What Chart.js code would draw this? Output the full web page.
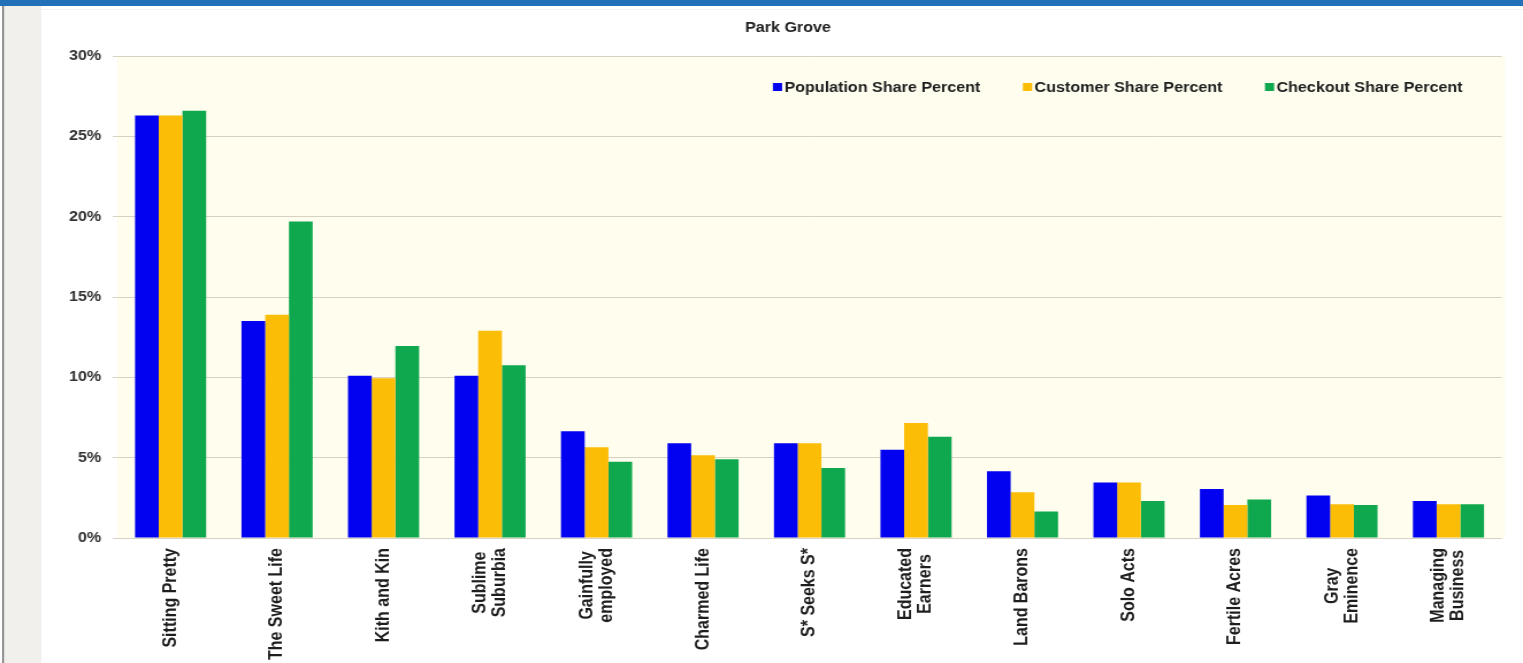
<!DOCTYPE html>
<html>
<head>
<meta charset="utf-8">
<script src="https://cdn.jsdelivr.net/npm/chart.js@4/dist/chart.umd.min.js"></script>
<style>
  html, body { margin: 0; padding: 0; background: #ffffff; overflow: hidden; }
  #wrap { width: 1523px; height: 663px; overflow: hidden; }
  #c { display: block; transform: scaleX(1.150302); transform-origin: 0 0; }
</style>
</head>
<body>
<div id="wrap"><canvas id="c" width="1324" height="663"></canvas></div>
<script>
// ---- data ----
const chartTitle = 'Park Grove';
const categories = [
  'Sitting Pretty', 'The Sweet Life', 'Kith and Kin', ['Sublime', 'Suburbia'],
  ['Gainfully', 'employed'], 'Charmed Life', 'S* Seeks S*', ['Educated', 'Earners'],
  'Land Barons', 'Solo Acts', 'Fertile Acres', ['Gray', 'Eminence'], ['Managing', 'Business']
];
const seriesNames = ['Population Share Percent', 'Customer Share Percent', 'Checkout Share Percent'];
const populationShare = [26.3, 13.5, 10.1, 10.1, 6.65, 5.9, 5.9, 5.5, 4.15, 3.45, 3.05, 2.65, 2.3];
const customerShare   = [26.3, 13.9, 9.95, 12.9, 5.65, 5.15, 5.9, 7.15, 2.85, 3.45, 2.05, 2.1, 2.1];
const checkoutShare   = [26.6, 19.7, 11.95, 10.75, 4.75, 4.9, 4.35, 6.3, 1.65, 2.3, 2.4, 2.05, 2.1];
const yTicks = [0, 5, 10, 15, 20, 25, 30];

// ---- styles ----
const colors = ['#0202f0', '#fcbd06', '#0fa84f'];
const FONT = '"Liberation Sans", Arial, Helvetica, sans-serif';

const framePlugin = {
  id: 'frame',
  beforeDraw(chart) {
    const ctx = chart.ctx, W = chart.width, H = chart.height, a = chart.chartArea;
    ctx.save();
    ctx.fillStyle = '#ffffff';
    ctx.fillRect(0, 0, W, H);
    // left grey strip and border
    ctx.fillStyle = '#f2f0ed';
    ctx.fillRect(3, 0, 33, H);
    ctx.fillStyle = '#5a5a5a';
    ctx.fillRect(2, 0, 1.2, H);
    // top blue band
    ctx.fillStyle = '#2170b8';
    ctx.fillRect(0, 0, W, 6);
    ctx.fillStyle = '#f3f3f3';
    ctx.fillRect(36, 9, W - 36, 1);
    // plot background
    ctx.fillStyle = '#fefdee';
    ctx.fillRect(a.left, a.top, a.right - a.left + 3, a.bottom - a.top);
    ctx.restore();
  },
  afterDraw(chart) {
    const ctx = chart.ctx, a = chart.chartArea;
    const xs = chart.scales.x;
    ctx.save();
    // title
    ctx.font = 'bold 14px ' + FONT;
    ctx.fillStyle = '#222222';
    ctx.textAlign = 'center';
    ctx.textBaseline = 'middle';
    ctx.fillText(chartTitle, 685, 28);
    // category labels, rotated, lines centred
    ctx.font = 'bold 16px ' + FONT;
    ctx.fillStyle = '#1e1e1e';
    ctx.textAlign = 'center';
    ctx.textBaseline = 'middle';
    const lineH = 17;
    categories.forEach((lab, i) => {
      const lines = Array.isArray(lab) ? lab : [lab];
      const maxW = Math.max(...lines.map(l => ctx.measureText(l).width));
      const x = xs.getPixelForValue(i);
      ctx.save();
      ctx.translate(x, a.bottom + 10);
      ctx.rotate(-Math.PI / 2);
      lines.forEach((l, j) => {
        ctx.fillText(l, -maxW / 2, (j - (lines.length - 1) / 2) * lineH);
      });
      ctx.restore();
    });
    // legend inside plot, top right
    ctx.font = 'bold 14px ' + FONT;
    ctx.textAlign = 'left';
    ctx.textBaseline = 'alphabetic';
    const box = 8, boxGap = 2, itemGap = 37;
    const ds = chart.data.datasets;
    const widths = ds.map(d => ctx.measureText(d.label).width);
    let total = 0;
    widths.forEach((w, i) => { total += box + boxGap + w + (i < widths.length - 1 ? itemGap : 0); });
    let x = a.right - 34 - total;
    const base = 92;
    ds.forEach((d, i) => {
      ctx.fillStyle = d.backgroundColor;
      ctx.fillRect(x, base - 9, box, box);
      ctx.fillStyle = '#1e1e1e';
      ctx.fillText(d.label, x + box + boxGap, base);
      x += box + boxGap + widths[i] + itemGap;
    });
    ctx.restore();
  }
};

new Chart(document.getElementById('c'), {
  type: 'bar',
  data: {
    labels: categories,
    datasets: [
      { label: seriesNames[0], data: populationShare, backgroundColor: colors[0] },
      { label: seriesNames[1], data: customerShare, backgroundColor: colors[1] },
      { label: seriesNames[2], data: checkoutShare, backgroundColor: colors[2] }
    ]
  },
  options: {
    responsive: false,
    devicePixelRatio: 1,
    animation: false,
    datasets: { bar: { barPercentage: 1.0, categoryPercentage: 0.668, borderWidth: 0 } },
    layout: { padding: { left: 36, right: 18.5, top: 56, bottom: 125 } },
    plugins: {
      legend: { display: false },
      tooltip: { enabled: false },
      title: { display: false }
    },
    scales: {
      x: {
        afterFit(s) { s.height = 0; },
        grid: { display: false },
        border: { display: false },
        ticks: { display: false }
      },
      y: {
        min: yTicks[0],
        max: yTicks[yTicks.length - 1],
        afterFit(s) { s.width = 66; },
        afterBuildTicks(s) { s.ticks = yTicks.map(v => ({ value: v })); },
        ticks: {
          stepSize: 5,
          padding: 10,
          color: '#333333',
          font: { family: FONT, size: 14, weight: 'bold' },
          callback: v => v + '%'
        },
        grid: { color: '#d8d2c3', tickLength: 4, lineWidth: 1 },
        border: { display: false }
      }
    }
  },
  plugins: [framePlugin]
});
</script>
</body>
</html>
